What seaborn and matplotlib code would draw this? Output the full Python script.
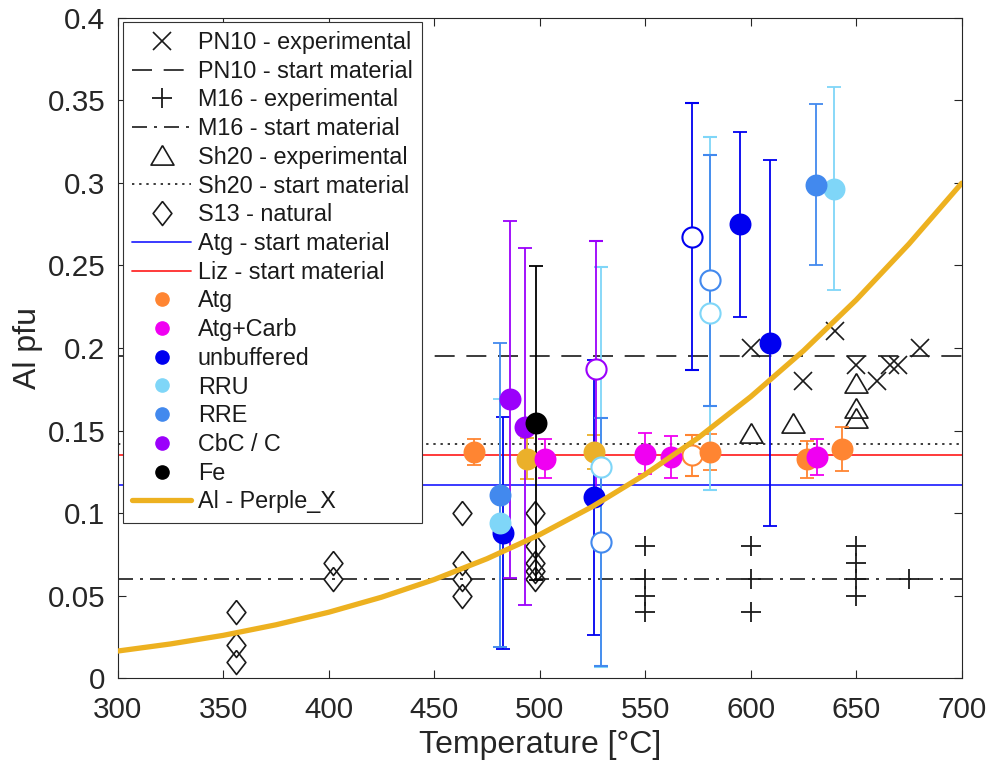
import matplotlib
matplotlib.use("Agg")
import matplotlib.pyplot as plt
import seaborn as sns
import pandas as pd
from matplotlib.lines import Line2D

# ---------------- data ----------------
x_ticks = [300, 350, 400, 450, 500, 550, 600, 650, 700]
y_ticks = [0, 0.05, 0.1, 0.15, 0.2, 0.25, 0.3, 0.35, 0.4]
y_tick_labels = ["0", "0.05", "0.1", "0.15", "0.2", "0.25", "0.3", "0.35", "0.4"]

# literature data (open black symbols)
pn10_T = [600, 625, 640, 650, 660, 666, 670, 680]
pn10_al = [0.200, 0.180, 0.210, 0.190, 0.180, 0.190, 0.190, 0.200]
m16_T = [550, 550, 550, 550, 600, 600, 600, 650, 650, 650, 650, 675]
m16_al = [0.08, 0.06, 0.05, 0.04, 0.08, 0.06, 0.04, 0.08, 0.07, 0.06, 0.05, 0.06]
sh20_T = [600, 620, 650, 650, 650]
sh20_al = [0.148, 0.154, 0.178, 0.163, 0.157]
s13_T = [356, 356, 356, 402, 402, 463, 463, 463, 463, 498, 498, 498, 498, 498]
s13_al = [0.040, 0.020, 0.010, 0.070, 0.060, 0.100, 0.070, 0.060, 0.050,
          0.100, 0.080, 0.070, 0.065, 0.060]

# start material levels
pn10_start = 0.195
m16_start = 0.060
sh20_start = 0.142
atg_start = 0.117
liz_start = 0.135

# Perple_X model curve
perplex_T = [300, 325, 350, 375, 400, 425, 450, 475, 500, 525, 550, 575,
             600, 625, 650, 675, 700]
perplex_al = [0.0165, 0.0208, 0.0260, 0.0324, 0.0400, 0.0491, 0.0598, 0.0724,
              0.0870, 0.1040, 0.1235, 0.1455, 0.1705, 0.1983, 0.2291, 0.2630, 0.2998]

# this study (coloured circles with error bars)
atg2_T = [494, 525.5]
atg2_al = [0.133, 0.137]
atg2_err = [0.0125, 0.0105]
atg2_filled = [True, True]

atg_T = [469, 572, 580.5, 626.5, 643.5]
atg_al = [0.137, 0.135, 0.137, 0.1325, 0.139]
atg_err = [0.008, 0.0125, 0.011, 0.011, 0.0133]
atg_filled = [True, False, True, True, True]

carb_T = [502.5, 550, 562, 631.3]
carb_al = [0.133, 0.136, 0.134, 0.134]
carb_err = [0.012, 0.0125, 0.0125, 0.011]
carb_filled = [True, True, True, True]

unbuf_T = [482.5, 525.5, 572, 595, 609]
unbuf_al = [0.088, 0.1095, 0.2675, 0.275, 0.203]
unbuf_err = [0.070, 0.083, 0.081, 0.056, 0.111]
unbuf_filled = [True, True, False, True, True]

rru_T = [481, 529, 580.5, 639.5]
rru_al = [0.094, 0.128, 0.221, 0.2965]
rru_err = [0.075, 0.121, 0.107, 0.0615]
rru_filled = [True, False, False, True]

rre_T = [481, 529, 580.5, 631]
rre_al = [0.111, 0.0825, 0.241, 0.299]
rre_err = [0.092, 0.075, 0.076, 0.049]
rre_filled = [True, False, False, True]

cbc_T = [486, 493, 526.5]
cbc_al = [0.169, 0.1523, 0.1875]
cbc_err = [0.108, 0.108, 0.077]
cbc_filled = [True, True, False]

fe_T = [498.2]
fe_al = [0.1548]
fe_err = [0.095]
fe_filled = [True]

# ---------------- style ----------------
C_ATG = "#FF8532"
C_ATG2 = "#EBB02A"
C_CARB = "#F000F2"
C_UNBUF = "#0000F0"
C_RRU = "#7FD6F8"
C_RRE = "#4289EE"
C_CBC = "#9B00FB"
C_FE = "#000000"
C_PERPLEX = "#EDB120"
C_BLUE = "#2B2BFF"
C_RED = "#FF2B2B"
C_TXT = "#262626"

DASHED = (0, (12, 7))
DASHDOT = (0, (9, 4.2, 1.8, 4.2))
DOTTED = (0, (1.4, 2.9))
TRI = [(0, 0.95), (1, -0.75), (-1, -0.75), (0, 0.95)]
DIA = [(0, 1), (0.78, 0), (0, -1), (-0.78, 0), (0, 1)]

sns.set_theme(style="ticks")
plt.rcParams["font.family"] = ["Liberation Sans", "DejaVu Sans"]
plt.rcParams["axes.edgecolor"] = C_TXT

fig = plt.figure(figsize=(9.92, 7.67), dpi=100)
W, H = 992, 767
ax = fig.add_axes([117.7 / W, 1 - 678.3 / H, (961.7 - 117.7) / W, (678.3 - 17.7) / H])

# start-material horizontal lines
ax.axhline(pn10_start, color="k", lw=1.2, ls=DASHED, zorder=2)
ax.axhline(m16_start, color="k", lw=1.2, ls=DASHDOT, zorder=2)
ax.axhline(sh20_start, color="k", lw=1.2, ls=DOTTED, zorder=2)
ax.axhline(atg_start, color=C_BLUE, lw=1.3, zorder=2)
ax.axhline(liz_start, color=C_RED, lw=1.3, zorder=2)

# literature symbols
ax.plot(pn10_T, pn10_al, ls="none", marker="x", ms=13, mew=1.2, color="k", zorder=3)
ax.plot(m16_T, m16_al, ls="none", marker="+", ms=14.5, mew=1.3, color="k", zorder=3)
ax.plot(sh20_T, sh20_al, ls="none", marker=TRI, ms=16.5, mew=1.2, mec="k",
        mfc="none", zorder=3)
ax.plot(s13_T, s13_al, ls="none", marker=DIA, ms=17.3, mew=1.2, mec="k",
        mfc="none", zorder=3)


def draw_group(T, al, err, filled, color):
    for t, a, e, f in zip(T, al, err, filled):
        ax.errorbar([t], [a], yerr=[e], fmt="o", color=color, ms=14.5,
                    mfc=color if f else "white", mec=color, mew=1.3 if f else 1.5,
                    elinewidth=1.3, capsize=5, capthick=1.3, zorder=4)


draw_group(atg2_T, atg2_al, atg2_err, atg2_filled, C_ATG2)
draw_group(atg_T, atg_al, atg_err, atg_filled, C_ATG)
draw_group(carb_T, carb_al, carb_err, carb_filled, C_CARB)
draw_group(unbuf_T, unbuf_al, unbuf_err, unbuf_filled, C_UNBUF)
draw_group(rru_T, rru_al, rru_err, rru_filled, C_RRU)
draw_group(rre_T, rre_al, rre_err, rre_filled, C_RRE)
draw_group(cbc_T, cbc_al, cbc_err, cbc_filled, C_CBC)
draw_group(fe_T, fe_al, fe_err, fe_filled, C_FE)

# Perple_X curve via seaborn
curve = pd.DataFrame({"T": perplex_T, "Al": perplex_al})
sns.lineplot(data=curve, x="T", y="Al", color=C_PERPLEX, lw=3.8, ax=ax, zorder=4.5)

# axes
ax.set_xlim(300, 700)
ax.set_ylim(0, 0.4)
ax.set_xticks(x_ticks)
ax.set_yticks(y_ticks)
ax.set_yticklabels(y_tick_labels)
ax.tick_params(direction="in", length=5.8, width=0.8, top=True, right=True,
               labelsize=21.3, colors=C_TXT, labelcolor=C_TXT)
ax.tick_params(axis="x", pad=13)
ax.tick_params(axis="y", pad=9)
for s in ax.spines.values():
    s.set_visible(True)
    s.set_linewidth(0.8)
    s.set_color(C_TXT)
ax.set_xlabel("Temperature [°C]", fontsize=23, color=C_TXT, labelpad=4)
ax.set_ylabel("Al pfu", fontsize=23, color=C_TXT, labelpad=3)

# legend
handles = [
    Line2D([], [], ls="none", marker="x", ms=13, mew=1.2, color="k"),
    Line2D([], [], color="k", lw=1.2, ls=DASHED),
    Line2D([], [], ls="none", marker="+", ms=14.5, mew=1.3, color="k"),
    Line2D([], [], color="k", lw=1.2, ls=DASHDOT),
    Line2D([], [], ls="none", marker=TRI, ms=16.5, mew=1.2, mec="k", mfc="none"),
    Line2D([], [], color="k", lw=1.2, ls=DOTTED),
    Line2D([], [], ls="none", marker=DIA, ms=17.3, mew=1.2, mec="k", mfc="none"),
    Line2D([], [], color=C_BLUE, lw=1.3),
    Line2D([], [], color=C_RED, lw=1.3),
    Line2D([], [], ls="none", marker="o", ms=9.5, color=C_ATG),
    Line2D([], [], ls="none", marker="o", ms=9.5, color=C_CARB),
    Line2D([], [], ls="none", marker="o", ms=9.5, color=C_UNBUF),
    Line2D([], [], ls="none", marker="o", ms=9.5, color=C_RRU),
    Line2D([], [], ls="none", marker="o", ms=9.5, color=C_RRE),
    Line2D([], [], ls="none", marker="o", ms=9.5, color=C_CBC),
    Line2D([], [], ls="none", marker="o", ms=9.5, color=C_FE),
    Line2D([], [], color=C_PERPLEX, lw=3.8),
]
labels = [
    "PN10 - experimental", "PN10 - start material",
    "M16 - experimental", "M16 - start material",
    "Sh20 - experimental", "Sh20 - start material",
    "S13 - natural",
    "Atg - start material", "Liz - start material",
    "Atg", "Atg+Carb", "unbuffered", "RRU", "RRE", "CbC / C", "Fe",
    "Al - Perple_X",
]
leg = ax.legend(handles, labels, loc="upper left", bbox_to_anchor=(0.0063, 0.994),
                borderaxespad=0, fontsize=16.8, frameon=True, fancybox=False,
                framealpha=1, edgecolor="#333333", borderpad=0.4, labelspacing=0.245,
                handlelength=2.5, handletextpad=0.3, numpoints=1)
leg.get_frame().set_linewidth(0.8)
leg.set_zorder(10)
for t in leg.get_texts():
    t.set_color("k")

fig.savefig("out.png", dpi=100)
